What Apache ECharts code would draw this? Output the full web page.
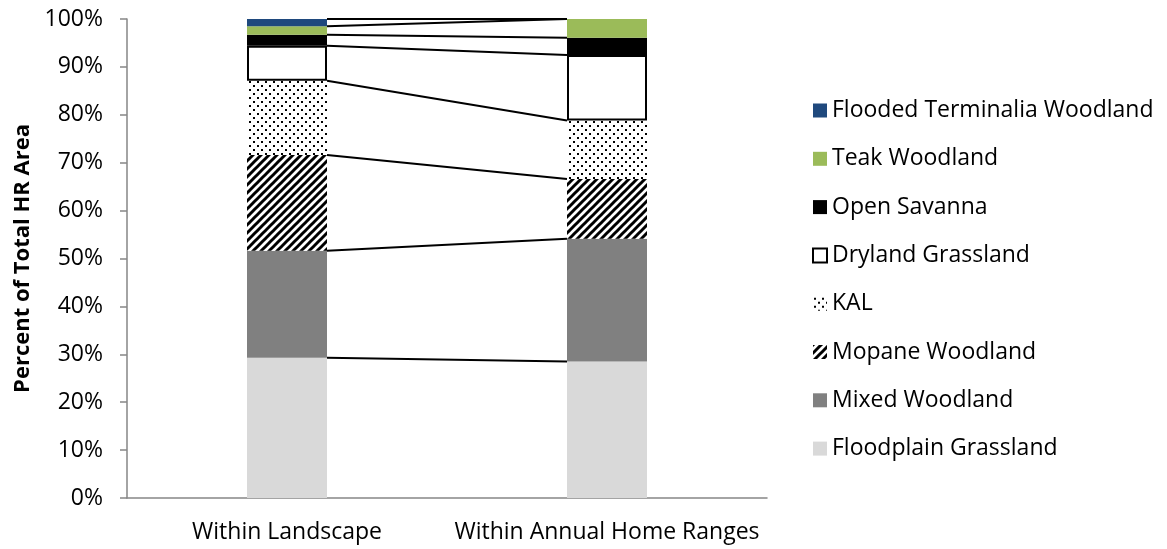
<!DOCTYPE html>
<html>
<head>
<meta charset="utf-8">
<script src="https://cdn.jsdelivr.net/npm/echarts@6/dist/echarts.min.js"></script>
<style>html,body{margin:0;padding:0;background:#fff;}#c{width:1167px;height:549px;}</style>
</head>
<body>
<div id="c"></div>
<script>
const categories = ['Within Landscape', 'Within Annual Home Ranges'];
const seriesNames = ['Floodplain Grassland', 'Mixed Woodland', 'Mopane Woodland', 'KAL', 'Dryland Grassland', 'Open Savanna', 'Teak Woodland', 'Flooded Terminalia Woodland'];
const floodplainGrassland = [29.3, 28.5];
const mixedWoodland = [22.3, 25.6];
const mopaneWoodland = [20.0, 12.5];
const kal = [15.5, 12.2];
const drylandGrassland = [7.3, 13.7];
const openSavanna = [2.3, 3.6];
const teakWoodland = [1.8, 3.9];
const floodedTerminalia = [1.5, 0.0];
const yTicks = [0, 10, 20, 30, 40, 50, 60, 70, 80, 90, 100];

const seriesValues = [floodplainGrassland, mixedWoodland, mopaneWoodland, kal, drylandGrassland, openSavanna, teakWoodland, floodedTerminalia];

function makeDots() {
  const c = document.createElement('canvas'); c.width = 8; c.height = 8;
  const g = c.getContext('2d');
  g.fillStyle = '#fff'; g.fillRect(0, 0, 8, 8);
  g.fillStyle = '#000';
  g.fillRect(1, 1, 2, 2); g.fillRect(5, 5, 2, 2);
  return c;
}
function makeStripes() {
  const c = document.createElement('canvas'); c.width = 8; c.height = 8;
  const g = c.getContext('2d');
  g.fillStyle = '#fff'; g.fillRect(0, 0, 8, 8);
  g.strokeStyle = '#000'; g.lineWidth = 3;
  for (let k = -1; k <= 1; k++) {
    g.beginPath(); g.moveTo(-2 + 8 * k, 10); g.lineTo(10 + 8 * k, -2); g.stroke();
  }
  return c;
}
const dotPattern = { image: makeDots(), repeat: 'repeat' };
const stripePattern = { image: makeStripes(), repeat: 'repeat' };

const styles = [
  { color: '#d9d9d9' },
  { color: '#808080' },
  { color: stripePattern },
  { color: dotPattern },
  { color: '#ffffff', borderColor: '#000', borderWidth: 2 },
  { color: '#000000' },
  { color: '#9bbb59' },
  { color: '#1f497d' }
];

// cumulative tops per level
const cumA = [], cumB = [];
let sa = 0, sb = 0;
seriesValues.forEach(v => { sa += v[0]; sb += v[1]; cumA.push(sa); cumB.push(sb); });

const FONT = 'Open Sans';
const barSeries = seriesNames.map((n, i) => ({
  name: n, type: 'bar', stack: 'all', barWidth: '25%',
  data: seriesValues[i],
  itemStyle: styles[i],
  emphasis: { disabled: true },
  z: 2
}));

const lineSeries = {
  type: 'custom',
  coordinateSystem: 'cartesian2d',
  silent: true,
  z: 1,
  encode: { x: 0, y: [1, 2] },
  data: cumA.map((v, i) => [0, cumA[i], cumB[i]]),
  renderItem: function (params, api) {
    const p1 = api.coord([0, api.value(1)]);
    const p2 = api.coord([1, api.value(2)]);
    const bw = api.size([1, 0])[0] * 0.25;
    return {
      type: 'line',
      shape: { x1: p1[0] + bw / 2, y1: p1[1], x2: p2[0] - bw / 2, y2: p2[1] },
      style: { stroke: '#000', lineWidth: 2 }
    };
  }
};

const chart = echarts.init(document.getElementById('c'), null, { renderer: 'canvas' });
chart.setOption({
  animation: false,
  backgroundColor: '#fff',
  grid: { left: 127, right: 400, top: 19, bottom: 51, containLabel: false },
  legend: {
    orient: 'vertical', left: 807, top: 94,
    data: seriesNames.slice().reverse(),
    icon: 'rect', itemWidth: 14, itemHeight: 14, itemGap: 25.3,
    textStyle: { fontFamily: FONT, fontSize: 23, color: '#000' },
    selectedMode: false
  },
  xAxis: {
    type: 'category', data: categories,
    axisLine: { lineStyle: { color: '#868686', width: 1.5 } },
    axisTick: { show: false },
    axisLabel: { fontFamily: FONT, fontSize: 23, color: '#000', margin: 23, interval: 0 }
  },
  yAxis: {
    type: 'value', min: 0, max: 100, interval: 10,
    name: 'Percent of Total HR Area', nameLocation: 'middle', nameGap: 93,
    nameTextStyle: { fontFamily: FONT, fontSize: 22, fontWeight: 'bold', color: '#000' },
    axisLine: { show: true, lineStyle: { color: '#868686', width: 1.5 } },
    axisTick: { show: true, length: 7, lineStyle: { color: '#868686', width: 1.5 } },
    splitLine: { show: false },
    axisLabel: { fontFamily: FONT, fontSize: 23, color: '#000', margin: 24,
      formatter: v => (yTicks.indexOf(v) >= 0 ? v + '%' : '') }
  },
  series: barSeries.concat([lineSeries])
});
</script>
</body>
</html>
